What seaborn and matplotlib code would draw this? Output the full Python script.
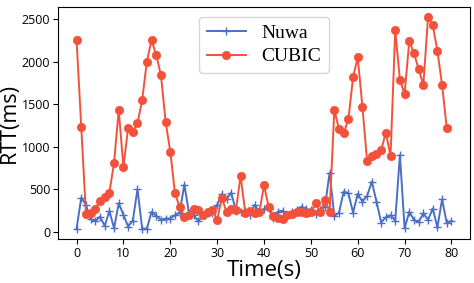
import numpy as np
import pandas as pd
import matplotlib
matplotlib.use("Agg")
import matplotlib.pyplot as plt
import seaborn as sns

nuwa_rtt = [39, 403, 317, 149, 125, 180, 70, 246, 43, 336,
            200, 63, 133, 501, 39, 39, 235, 188, 141, 157,
            157, 196, 227, 556, 219, 196, 125, 200, 219, 227,
            317, 446, 383, 461, 250, 239, 250, 196, 317, 239,
            270, 278, 161, 239, 250, 200, 239, 258, 297, 266,
            258, 211, 258, 297, 696, 188, 227, 473, 454, 227,
            446, 356, 423, 591, 356, 110, 172, 196, 133, 904,
            43, 235, 141, 117, 219, 141, 274, 55, 383, 102, 133]
cubic_rtt = [2253, 1232, 211, 227, 274, 368, 407, 461, 813, 1432,
             759, 1224, 1177, 1275, 1549, 2000, 2253, 2077, 1843, 1295,
             943, 454, 290, 180, 200, 266, 258, 196, 235, 258,
             141, 403, 231, 270, 258, 657, 227, 246, 219, 231,
             548, 290, 188, 168, 149, 200, 211, 231, 235, 219,
             235, 336, 231, 376, 239, 1432, 1209, 1158, 1322, 1815,
             2050, 1471, 830, 892, 912, 962, 1166, 892, 2371, 1784,
             1620, 2245, 2097, 1913, 1725, 2520, 2430, 2128, 1725, 1217]

nuwa = pd.DataFrame({"time": np.arange(len(nuwa_rtt)), "rtt": nuwa_rtt})
cubic = pd.DataFrame({"time": np.arange(len(cubic_rtt)), "rtt": cubic_rtt})

blue = "#4a6fc4"
red = "#f4513a"

fig, ax = plt.subplots(figsize=(4.74, 2.83), dpi=100)
sns.lineplot(data=nuwa, x="time", y="rtt", ax=ax, color=blue, marker="+",
             markersize=5.5, markeredgewidth=1.0, markeredgecolor=blue,
             linewidth=1.4, label="Nuwa")
sns.lineplot(data=cubic, x="time", y="rtt", ax=ax, color=red, marker="o",
             markersize=6, markeredgewidth=0.5, markeredgecolor=red,
             linewidth=1.4, label="CUBIC")

ax.set_xticks(range(0, 81, 10))
ax.set_yticks(range(0, 2501, 500))
ax.tick_params(labelsize=9, pad=2)
for lab in ax.get_xticklabels() + ax.get_yticklabels():
    lab.set_family("Open Sans")
ax.set_xlabel("Time(s)", fontsize=16, family="Open Sans", labelpad=0)
ax.set_ylabel("RTT(ms)", fontsize=15.5, family="Open Sans")
ax.yaxis.set_label_coords(-0.092, 0.5)
ax.legend(loc="upper center", prop={"family": "Liberation Serif", "size": 14},
          handlelength=2.0, borderpad=0.4, labelspacing=0.3)
plt.subplots_adjust(left=0.122, right=0.992, bottom=0.155, top=0.976)
plt.savefig("out.png", dpi=100)
